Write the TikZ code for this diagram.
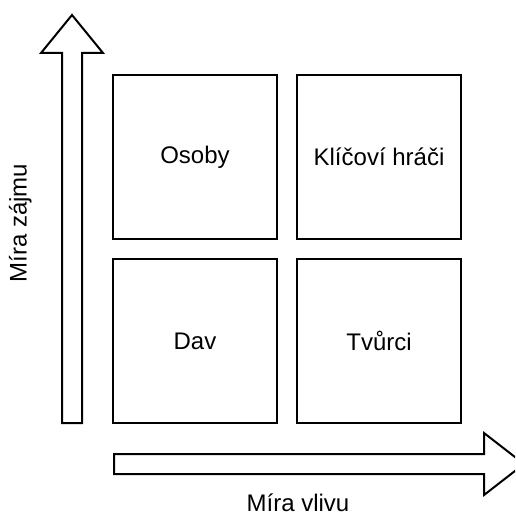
\documentclass[tikz,border=0pt]{standalone}
\usepackage{fontspec}
\setmainfont{Liberation Sans}
\begin{document}
\begin{tikzpicture}[x=1pt,y=-1pt,
  line width=2pt,
  quad/.style={draw, minimum width=164pt, minimum height=164pt, inner sep=0pt, font=\fontsize{24}{28}\selectfont},
  lbl/.style={font=\fontsize{24}{28}\selectfont, inner sep=0pt},
  bigarrow/.style={draw, line join=miter, fill=white}]
\useasboundingbox (0,0) rectangle (515,516);
\clip (0,0) rectangle (515,516);
\node[quad] (osoby) at (195,157) {Osoby};
\node[quad] (klic) at (379,157) {Klíčoví hráči};
\node[quad] (dav) at (195,341) {Dav};
\node[quad] (tvurci) at (379,341) {Tvůrci};
% vertical arrow
\draw[bigarrow] (62,423) -- (62,53) -- (41,53) -- (72,15) -- (103,53) -- (82,53) -- (82,423) -- cycle;
% horizontal arrow
\draw[bigarrow] (114,454) -- (484,454) -- (484,433) -- (524,464) -- (484,495) -- (484,474) -- (114,474) -- cycle;
\node[lbl, rotate=90, anchor=base] (zajem) at (26.5,223) {Míra zájmu};
\node[lbl, anchor=base] (vliv) at (298,511) {Míra vlivu};
\end{tikzpicture}
\end{document}
